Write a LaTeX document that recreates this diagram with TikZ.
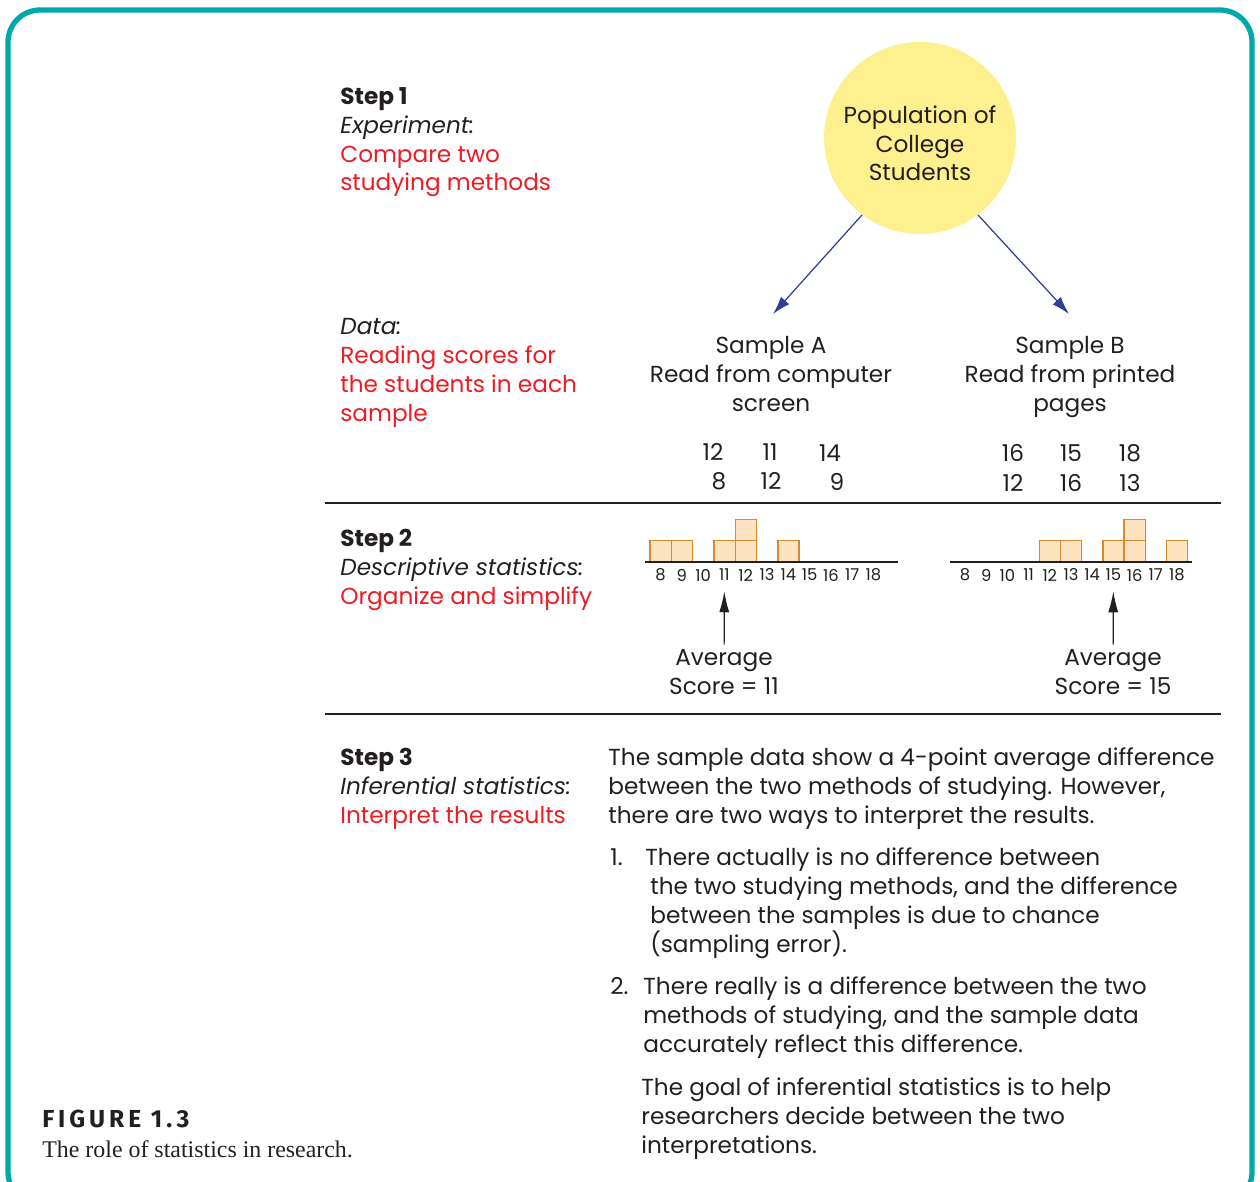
\documentclass[tikz,border=0pt]{standalone}
\usepackage{fontspec}
\setmainfont{Poppins}
\newfontfamily\capfont{Liberation Serif}
\newfontfamily\figfont[LetterSpace=16]{Fira Sans}
\usetikzlibrary{positioning, calc, arrows.meta}
\definecolor{Ink}{HTML}{231F20}
\definecolor{Frame}{HTML}{00A9A9}
\definecolor{Hilite}{HTML}{ED1C24}
\definecolor{Pop}{HTML}{FFF08F}
\definecolor{Blue}{HTML}{2E3F99}
\definecolor{BarFill}{HTML}{FDE3BF}
\definecolor{BarEdge}{HTML}{D68B2E}
\tikzset{
    body/.style={inner sep=0pt, text=Ink, align=left, anchor=base west, font=\fontsize{13.2}{16.5}\selectfont},
    mid/.style={body, align=center, anchor=base},
    num/.style={inner sep=0pt, text=Ink, anchor=base, font=\fontsize{13.2}{16.5}\selectfont},
    tick/.style={inner sep=0pt, text=Ink, font=\fontsize{9.3}{10}\selectfont},
    bar/.style={draw=BarEdge, fill=BarFill, line width=0.8pt},
    rule/.style={draw=Ink, line width=0.7pt},
    blue arrow/.style={-{Latex[length=0.36cm, width=0.22cm]}, draw=Blue, fill=Blue, line width=0.7pt},
    up arrow/.style={-{Latex[length=0.42cm, width=0.2cm]}, draw=Ink, line width=0.7pt},
}

\begin{document}
\begin{tikzpicture}[x=0.02cm, y=-0.02cm]
    \useasboundingbox (0,0) rectangle (1260,1182);
    % Rahmen
    \draw[Frame, line width=3pt, rounded corners=0.64cm] (8,10) rectangle (1252,1204);

    % Schritt 1 (Basislinie = letzte Zeile)
    \node[body] (step1) at (340,191) {\textbf{Step 1}\\\textit{Experiment:}\\\textcolor{Hilite}{Compare two}\\\textcolor{Hilite}{studying methods}};
    \node[body] (data) at (340,421) {\textit{Data:}\\\textcolor{Hilite}{Reading scores for}\\\textcolor{Hilite}{the students in each}\\\textcolor{Hilite}{sample}};

    % Population und Stichproben
    \node[circle, fill=Pop, minimum size=3.84cm, inner sep=0pt] (pop) at (920,138) {};
    \node[mid] (popText) at (920,181) {Population of\\College\\Students};
    \node[mid] (sampA) at (771,411) {Sample A\\Read from computer\\screen};
    \node[mid] (sampB) at (1070,411) {Sample B\\Read from printed\\pages};
    \coordinate (tipA) at (773,314);
    \coordinate (tipB) at (1069,314);
    \draw[blue arrow] (pop.233.5) -- (tipA);
    \draw[blue arrow] (pop.-53.5) -- (tipB);

    % Rohdaten
    \foreach \v/\x/\y [count=\i] in {12/713/460, 11/770/460, 14/830/461, 8/719/489, 12/771/489, 9/837/490}
        \node[num] (nA\i) at (\x,\y) {\v};
    \foreach \v/\x/\y [count=\i] in {16/1013/461, 15/1071/461, 18/1130/461, 12/1013/491, 16/1071/491, 13/1130/491}
        \node[num] (nB\i) at (\x,\y) {\v};

    \draw[rule] (325,503) -- (1221,503);

    % Schritt 2
    \node[body] (step2) at (340,604) {\textbf{Step 2}\\\textit{Descriptive statistics:}\\\textcolor{Hilite}{Organize and simplify}};

    % Histogramm A
    \foreach \v/\h in {8/0, 9/0, 11/0, 12/0, 12/1, 14/0}
        \draw[bar] ({650+(\v-8)*21.3}, {562-\h*21.3}) rectangle ++(21.3,-21.3);
    \draw[rule] (645,562) -- (898,562);
    \foreach \v in {8,...,18}
        \node[tick] (lA\v) at ({660.5+(\v-8)*21.3}, 575) {\v};
    \node[mid] (avgA) at (724,694) {Average\\Score = 11};
    \draw[up arrow, shorten >=0.2cm, shorten <=0.08cm] (avgA) -- (lA11);

    % Histogramm B
    \foreach \v/\h in {12/0, 13/0, 15/0, 16/0, 16/1, 18/0}
        \draw[bar] ({954.5+(\v-8)*21.2}, {562-\h*21.3}) rectangle ++(21.2,-21.3);
    \draw[rule] (950,562) -- (1192,562);
    \foreach \v in {8,...,18}
        \node[tick] (lB\v) at ({965+(\v-8)*21.2}, 575) {\v};
    \node[mid] (avgB) at (1113,694) {Average\\Score = 15};
    \draw[up arrow, shorten >=0.2cm, shorten <=0.08cm] (avgB) -- (lB15);

    \draw[rule] (325,714) -- (1221,714);

    % Schritt 3
    \node[body] (step3) at (340,823) {\textbf{Step 3}\\\textit{Inferential statistics:}\\\textcolor{Hilite}{Interpret the results}};
    \node[body] (intro) at (608,823) {The sample data show a 4-point average difference\\between the two methods of studying. However,\\there are two ways to interpret the results.};
    \node[body] (no1) at (610,865) {1.};
    \node[body] (item1) at (645,952) {There actually is no difference between\\\hspace*{0.1cm}the two studying methods, and the difference\\\hspace*{0.1cm}between the samples is due to chance\\\hspace*{0.1cm}(sampling error).};
    \node[body] (no2) at (610,994) {2.};
    \node[body] (item2) at (643,1052) {There really is a difference between the two\\methods of studying, and the sample data\\accurately reflect this difference.};
    \node[body] (goal) at (641,1153) {The goal of inferential statistics is to help\\researchers decide between the two\\interpretations.};

    % Bildunterschrift
    \node[inner sep=0pt, anchor=base west, text=Ink, font=\figfont\bfseries\fontsize{14}{16}\selectfont] (fig) at (42,1127) {FIGURE 1.3};
    \node[inner sep=0pt, anchor=base west, text=Ink, font=\capfont\fontsize{13.6}{16}\selectfont] (cap) at (42,1157) {The role of statistics in research.};
\end{tikzpicture}
\end{document}
